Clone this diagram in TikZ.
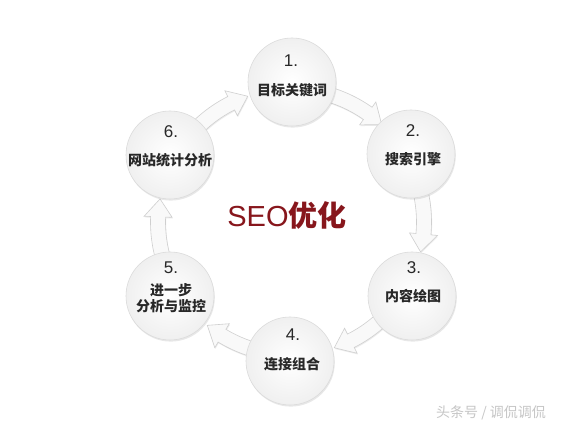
\documentclass[tikz,border=0pt]{standalone}
\usepackage{fontspec}
\setmainfont{Liberation Sans}
\newfontfamily\cjk{Noto Sans CJK SC}
\usetikzlibrary{shadows}
\definecolor{seored}{RGB}{135,22,28}
\definecolor{txt}{RGB}{40,40,40}
\tikzset{
  ball/.style={circle, minimum size=88pt, inner sep=0pt, draw=gray!28, line width=0.6pt,
    inner color=white, outer color=gray!12,
    drop shadow={opacity=0.18, shadow xshift=0.8pt, shadow yshift=-1.6pt}},
  blockarrow/.style={fill=gray!5, draw=gray!38, line width=0.6pt,
    drop shadow={opacity=0.15, shadow xshift=0.6pt, shadow yshift=-1.2pt}},
  num/.style={font=\fontsize{17}{19}\selectfont, text=txt, inner sep=0pt},
  lab/.style={font=\cjk\bfseries\fontsize{14}{16}\selectfont, text=txt, inner sep=0pt, align=center},
}
% #1 tail angle, #2 tip angle (clockwise, tail > tip)
\newcommand\ringarrow[2]{%
  \pgfmathsetmacro\hb{#2+7.75}%
  \path[blockarrow] (#1:125.5) arc[start angle=#1, end angle=\hb, radius=125.5]
    -- (\hb:119) -- (#2:133) -- (\hb:147) -- (\hb:140.5)
    arc[start angle=\hb, end angle=#1, radius=140.5] -- cycle;}
\begin{document}
\begin{tikzpicture}[x=1pt, y=1pt]
\useasboundingbox (0,0) rectangle (565,426);
\fill[white] (0,0) rectangle (565,426);
% ring of arrows (centre of the ring)
\begin{scope}[shift={(291,204)}]
  \ringarrow{80}{47}
  \ringarrow{20}{-13}
  \ringarrow{-40}{-71}
  \ringarrow{-100}{-129}
  \ringarrow{-160}{-190}
  \ringarrow{140}{109}
\end{scope}
% circles
\node[ball] (c1) at (292,344) {};
\node[ball] (c2) at (411,272) {};
\node[ball] (c3) at (412,130) {};
\node[ball] (c4) at (290,65) {};
\node[ball] (c5) at (170,130) {};
\node[ball] (c6) at (170,271) {};
% texts
\node[num] (n1) at (291,365) {1.};
\node[lab] (l1) at (292,336) {目标关键词};
\node[num] (n2) at (413,295) {2.};
\node[lab] (l2) at (413,267) {搜索引擎};
\node[num] (n3) at (414,158) {3.};
\node[lab] (l3) at (413,130) {内容绘图};
\node[num] (n4) at (293,91) {4.};
\node[lab] (l4) at (292,62) {连接组合};
\node[num] (n5) at (171,158) {5.};
\node[lab] (l5) at (171,128) {进一步\\分析与监控};
\node[num] (n6) at (171,294) {6.};
\node[lab] (l6) at (170,266) {网站统计分析};
% centre title
\node[inner sep=0pt, text=seored] (title) at (287,211)
  {\fontsize{29}{32}\selectfont SEO{\cjk\bfseries 优化}};
% watermark
\node[inner sep=0pt, text=gray!45] (wm) at (491,13)
  {\cjk\fontsize{14}{16}\selectfont 头条号 / 调侃调侃};
\end{tikzpicture}
\end{document}
